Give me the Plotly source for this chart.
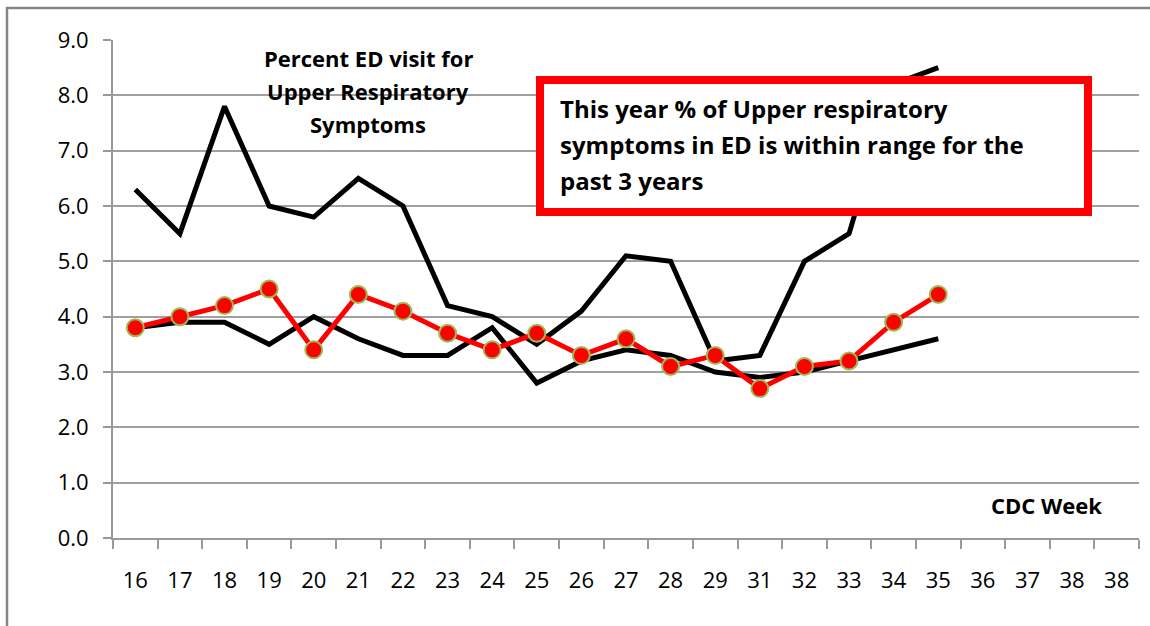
import plotly.graph_objects as go

weeks = ["16", "17", "18", "19", "20", "21", "22", "23", "24", "25", "26", "27",
         "28", "29", "31", "32", "33", "34", "35", "36", "37", "38", "38"]
high_prev = [6.3, 5.5, 7.8, 6.0, 5.8, 6.5, 6.0, 4.2, 4.0, 3.5, 4.1, 5.1,
             5.0, 3.2, 3.3, 5.0, 5.5, 8.2, 8.5]
low_prev = [3.8, 3.9, 3.9, 3.5, 4.0, 3.6, 3.3, 3.3, 3.8, 2.8, 3.2, 3.4,
            3.3, 3.0, 2.9, 3.0, 3.2, 3.4, 3.6]
this_year = [3.8, 4.0, 4.2, 4.5, 3.4, 4.4, 4.1, 3.7, 3.4, 3.7, 3.3, 3.6,
             3.1, 3.3, 2.7, 3.1, 3.2, 3.9, 4.4]
y_ticks = [0, 1, 2, 3, 4, 5, 6, 7, 8, 9]

pos = list(range(len(weeks)))
FONT = "Open Sans"

fig = go.Figure()
fig.add_trace(go.Scatter(x=pos[:len(high_prev)], y=high_prev, mode="lines",
                         line=dict(color="black", width=5), showlegend=False))
fig.add_trace(go.Scatter(x=pos[:len(low_prev)], y=low_prev, mode="lines",
                         line=dict(color="black", width=5), showlegend=False))
fig.add_trace(go.Scatter(x=pos[:len(this_year)], y=this_year, mode="lines+markers",
                         line=dict(color="#ff0000", width=5),
                         marker=dict(color="#ff0000", size=17,
                                     line=dict(color="#9bbb59", width=2)),
                         showlegend=False))

L, T, R, B = 113, 40, 11, 88
W, H = 1150, 626
pw, ph = W - L - R, H - T - B

def px_x(v):
    return (v - L) / pw

def px_y(v):
    return (H - B - v) / ph

shapes = [
    # outer chart border
    dict(type="rect", xref="paper", yref="paper", x0=px_x(7), x1=px_x(1160),
         y0=px_y(640), y1=px_y(8), line=dict(color="#868686", width=2.5), layer="below"),
    # callout box
    dict(type="rect", xref="paper", yref="paper", x0=px_x(540), x1=px_x(1088),
         y0=px_y(212), y1=px_y(80), line=dict(color="#ff0000", width=8),
         fillcolor="white", layer="above"),
]

annotations = []
for txt, yy in [("Percent ED visit for", 58), ("Upper Respiratory", 91), ("Symptoms", 124)]:
    annotations.append(dict(text="<b>%s</b>" % txt, xref="paper", yref="paper",
                            x=px_x(368), y=px_y(yy), xanchor="center", yanchor="middle",
                            showarrow=False, font=dict(family=FONT, size=22, color="black")))
for txt, yy in [("This year % of Upper respiratory", 108),
                ("symptoms in ED is within range for the", 144),
                ("past 3 years", 180)]:
    annotations.append(dict(text="<b>%s</b>" % txt, xref="paper", yref="paper",
                            x=px_x(558), y=px_y(yy), xanchor="left", yanchor="middle",
                            showarrow=False, font=dict(family=FONT, size=24, color="black")))
annotations.append(dict(text="<b>CDC Week</b>", xref="paper", yref="paper",
                        x=px_x(1046), y=px_y(505), xanchor="center", yanchor="middle",
                        showarrow=False, font=dict(family=FONT, size=22, color="black")))

fig.update_layout(
    width=W, height=H,
    margin=dict(l=L, r=R, t=T, b=B),
    paper_bgcolor="white", plot_bgcolor="white",
    shapes=shapes, annotations=annotations,
    font=dict(family=FONT, color="black"),
    xaxis=dict(range=[-0.5, len(weeks) - 0.5], tickmode="array", tickvals=pos,
               ticktext=weeks, ticks="", showgrid=False, zeroline=False,
               showline=True, linecolor="#999999", linewidth=2,
               ticklabelstandoff=22, tickfont=dict(family=FONT, size=22, color="black"),
               minor=dict(tickmode="linear", tick0=-0.5, dtick=1, ticks="outside",
                          ticklen=9, tickwidth=2, tickcolor="#999999", showgrid=False)),
    yaxis=dict(range=[0, 9], tickmode="array", tickvals=y_ticks,
               ticktext=["%.1f" % v for v in y_ticks],
               ticks="outside", ticklen=8, tickwidth=2, tickcolor="#999999",
               showgrid=True, gridcolor="#a0a0a0", gridwidth=2, zeroline=False,
               showline=True, linecolor="#999999", linewidth=2,
               ticklabelstandoff=10, tickfont=dict(family=FONT, size=22, color="black")),
)

fig.write_html("out.html", config={"displayModeBar": False},
               post_script="document.body.style.margin='0px';document.body.style.overflow='hidden';")
